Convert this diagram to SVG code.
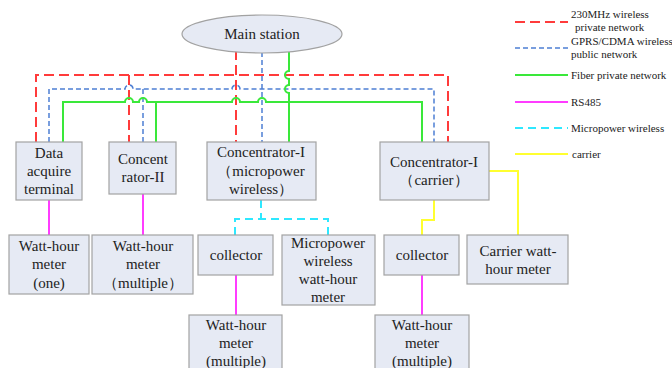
<svg xmlns="http://www.w3.org/2000/svg" width="672" height="368" viewBox="0 0 672 368">
<style>
.box{fill:#e6eaf4;stroke:#a2a2a2;stroke-width:1.2}
.t{font-family:"Liberation Serif","Times New Roman",serif;font-size:15px;fill:#222;text-anchor:middle}
.lg{font-family:"Liberation Serif","Times New Roman",serif;font-size:11px;fill:#222}
.red{fill:none;stroke:#ff3b3b;stroke-width:2;stroke-dasharray:10 5}
.blue{fill:none;stroke:#4d7fd4;stroke-width:1.5;stroke-dasharray:5 3}
.green{fill:none;stroke:#3ae83a;stroke-width:2}
.mag{fill:none;stroke:#ff3cff;stroke-width:2}
.cyan{fill:none;stroke:#2ee8ff;stroke-width:2;stroke-dasharray:8 5}
.yel{fill:none;stroke:#ffff30;stroke-width:2}
</style>
<rect width="672" height="368" fill="#fff"/>
<g id="connectors">
  <!-- red 230MHz -->
  <path class="red" d="M36,142 V75 H448 V142"/>
  <path class="red" d="M129,75 V142"/>
  <path class="red" d="M236,50 V142"/>
  <!-- blue GPRS -->
  <path class="blue" d="M49,142 V89 H125 A4,4 0 0 1 133,89 H232 A4,4 0 0 1 240,89 H434 V142"/>
  <path class="blue" d="M143,89 V142"/>
  <path class="blue" d="M262,52 V142"/>
  <!-- green fiber -->
  <path class="green" d="M63,142 V102 H125 A4,4 0 0 1 133,102 H139 A4,4 0 0 1 147,102 H232 A4,4 0 0 1 240,102 H258 A4,4 0 0 1 266,102 H422 V142"/>
  <path class="green" d="M156,102 V142"/>
  <path class="green" d="M289,52 V71 A4,4 0 0 0 289,79 V85 A4,4 0 0 0 289,93 V142"/>
  <!-- RS485 -->
  <path class="mag" d="M49,200 V235"/>
  <path class="mag" d="M143,194 V235"/>
  <path class="mag" d="M236,275 V315"/>
  <path class="mag" d="M422,275 V315"/>
  <!-- micropower wireless -->
  <path class="cyan" d="M261,200 V219"/>
  <path class="cyan" d="M235,235 V219 H328 V235"/>
  <!-- carrier -->
  <path class="yel" d="M434,200 V220 H422 V235"/>
  <path class="yel" d="M489,171 H518 V235"/>
</g>
<g id="main-station">
  <ellipse class="box" cx="262" cy="34" rx="80" ry="19"/>
  <text class="t" x="262" y="39">Main station</text>
</g>
<g id="data-acquire-terminal">
  <rect class="box" x="16" y="142" width="66" height="58"/>
  <text class="t" x="49" y="158">Data</text>
  <text class="t" x="49" y="176">acquire</text>
  <text class="t" x="49" y="194">terminal</text>
</g>
<g id="concentrator-ii">
  <rect class="box" x="109" y="142" width="67" height="52"/>
  <text class="t" x="143" y="164">Concent</text>
  <text class="t" x="143" y="182">rator-II</text>
</g>
<g id="concentrator-i-micropower">
  <rect class="box" x="207" y="142" width="109" height="58"/>
  <text class="t" x="261" y="157">Concentrator-I</text>
  <text class="t" x="261" y="176">（micropower</text>
  <text class="t" x="261" y="194">wireless）</text>
</g>
<g id="concentrator-i-carrier">
  <rect class="box" x="380" y="142" width="109" height="58"/>
  <text class="t" x="434" y="167">Concentrator-I</text>
  <text class="t" x="434" y="185">（carrier）</text>
</g>
<g id="meter-one">
  <rect class="box" x="9" y="235" width="80" height="59"/>
  <text class="t" x="49" y="251">Watt-hour</text>
  <text class="t" x="49" y="269">meter</text>
  <text class="t" x="49" y="288">(one)</text>
</g>
<g id="meter-multiple-1">
  <rect class="box" x="92" y="235" width="101" height="59"/>
  <text class="t" x="143" y="251">Watt-hour</text>
  <text class="t" x="143" y="269">meter</text>
  <text class="t" x="143" y="288">（multiple）</text>
</g>
<g id="collector-1">
  <rect class="box" x="198" y="235" width="75" height="40"/>
  <text class="t" x="236" y="260">collector</text>
</g>
<g id="micropower-meter">
  <rect class="box" x="282" y="235" width="93" height="70"/>
  <text class="t" x="328" y="248">Micropower</text>
  <text class="t" x="328" y="266">wireless</text>
  <text class="t" x="328" y="284">watt-hour</text>
  <text class="t" x="328" y="302">meter</text>
</g>
<g id="collector-2">
  <rect class="box" x="384" y="235" width="75" height="40"/>
  <text class="t" x="422" y="260">collector</text>
</g>
<g id="carrier-meter">
  <rect class="box" x="467" y="235" width="101" height="49"/>
  <text class="t" x="518" y="256">Carrier watt-</text>
  <text class="t" x="518" y="274">hour meter</text>
</g>
<g id="meter-multiple-2">
  <rect class="box" x="189" y="315" width="93" height="58"/>
  <text class="t" x="236" y="330">Watt-hour</text>
  <text class="t" x="236" y="348">meter</text>
  <text class="t" x="236" y="366">(multiple)</text>
</g>
<g id="meter-multiple-3">
  <rect class="box" x="375" y="315" width="94" height="58"/>
  <text class="t" x="422" y="330">Watt-hour</text>
  <text class="t" x="422" y="348">meter</text>
  <text class="t" x="422" y="366">(multiple)</text>
</g>
<g id="legend">
  <path class="red" d="M515,22 H568"/>
  <text class="lg" x="571" y="18">230MHz wireless</text>
  <text class="lg" x="575" y="31">private network</text>
  <path class="blue" d="M515,48 H568"/>
  <text class="lg" x="571" y="45">GPRS/CDMA wireless</text>
  <text class="lg" x="571" y="58">public network</text>
  <path class="green" d="M515,75 H568"/>
  <text class="lg" x="571" y="79">Fiber private network</text>
  <path class="mag" d="M515,102 H568"/>
  <text class="lg" x="571" y="106">RS485</text>
  <path class="cyan" d="M515,128 H568"/>
  <text class="lg" x="571" y="132">Micropower wireless</text>
  <path class="yel" d="M515,154 H568"/>
  <text class="lg" x="572" y="158">carrier</text>
</g>
</svg>
